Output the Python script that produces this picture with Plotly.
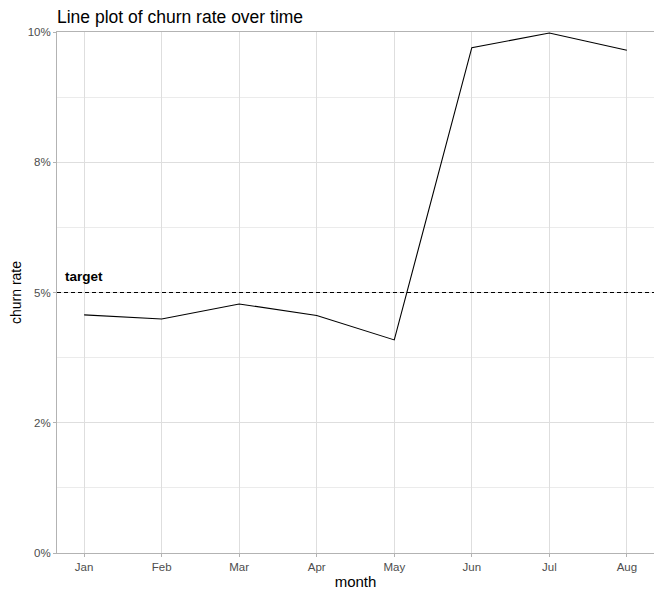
import plotly.graph_objects as go

months = ["Jan", "Feb", "Mar", "Apr", "May", "Jun", "Jul", "Aug"]
churn_rate = [0.0457, 0.0449, 0.0478, 0.0456, 0.0409, 0.0970, 0.0998, 0.0965]
target = 0.05
y_tickvals = [0, 0.025, 0.05, 0.075, 0.1]
y_ticktext = ["0%", "2%", "5%", "8%", "10%"]

FONT = "Liberation Sans, Arial, sans-serif"
W, H = 662, 598

fig = go.Figure()
fig.add_trace(go.Scatter(
    x=list(range(len(months))), y=churn_rate, mode="lines",
    line=dict(color="black", width=1.1), showlegend=False,
))
fig.add_hline(y=target, line=dict(color="black", width=1.1, dash="4px,3px"))
fig.add_annotation(x=0, y=0.053, text="<b>target</b>", showarrow=False,
                   xanchor="center", yanchor="middle",
                   font=dict(family=FONT, size=13.5, color="black"))

fig.update_layout(
    width=W, height=H,
    margin=dict(l=49, r=16, t=24, b=53, autoexpand=False),
    paper_bgcolor="white", plot_bgcolor="white",
    title=dict(text="Line plot of churn rate over time", x=49/W, xanchor="left",
               y=1 - 3/H, yanchor="top", pad=dict(t=0),
               font=dict(family=FONT, size=17.5, color="black")),
    font=dict(family=FONT),
)
fig.update_xaxes(
    range=[-0.35, len(months) - 1 + 0.35],
    tickvals=list(range(len(months))), ticktext=months,
    showgrid=True, gridcolor="#dedede", gridwidth=1,
    showline=True, linecolor="#b3b3b3", linewidth=1, mirror=True,
    ticks="outside", ticklen=3, tickcolor="#b3b3b3",
    tickfont=dict(family=FONT, size=11.5, color="#4d4d4d"),
    title=dict(text="month", font=dict(family=FONT, size=15, color="black"), standoff=4),
    zeroline=False, automargin=False,
)
fig.update_yaxes(
    range=[0, 0.1],
    tickvals=y_tickvals, ticktext=y_ticktext,
    showgrid=True, gridcolor="#dedede", gridwidth=1,
    minor=dict(tickvals=[0.0125, 0.0375, 0.0625, 0.0875], showgrid=True,
               gridcolor="#ebebeb", gridwidth=1),
    showline=True, linecolor="#b3b3b3", linewidth=1, mirror=True,
    ticks="outside", ticklen=3, tickcolor="#b3b3b3",
    tickfont=dict(family=FONT, size=11.5, color="#4d4d4d"),
    title=dict(text="churn rate", font=dict(family=FONT, size=14, color="black"), standoff=6),
    zeroline=False, automargin=False,
)

fig.write_html("out.html")
